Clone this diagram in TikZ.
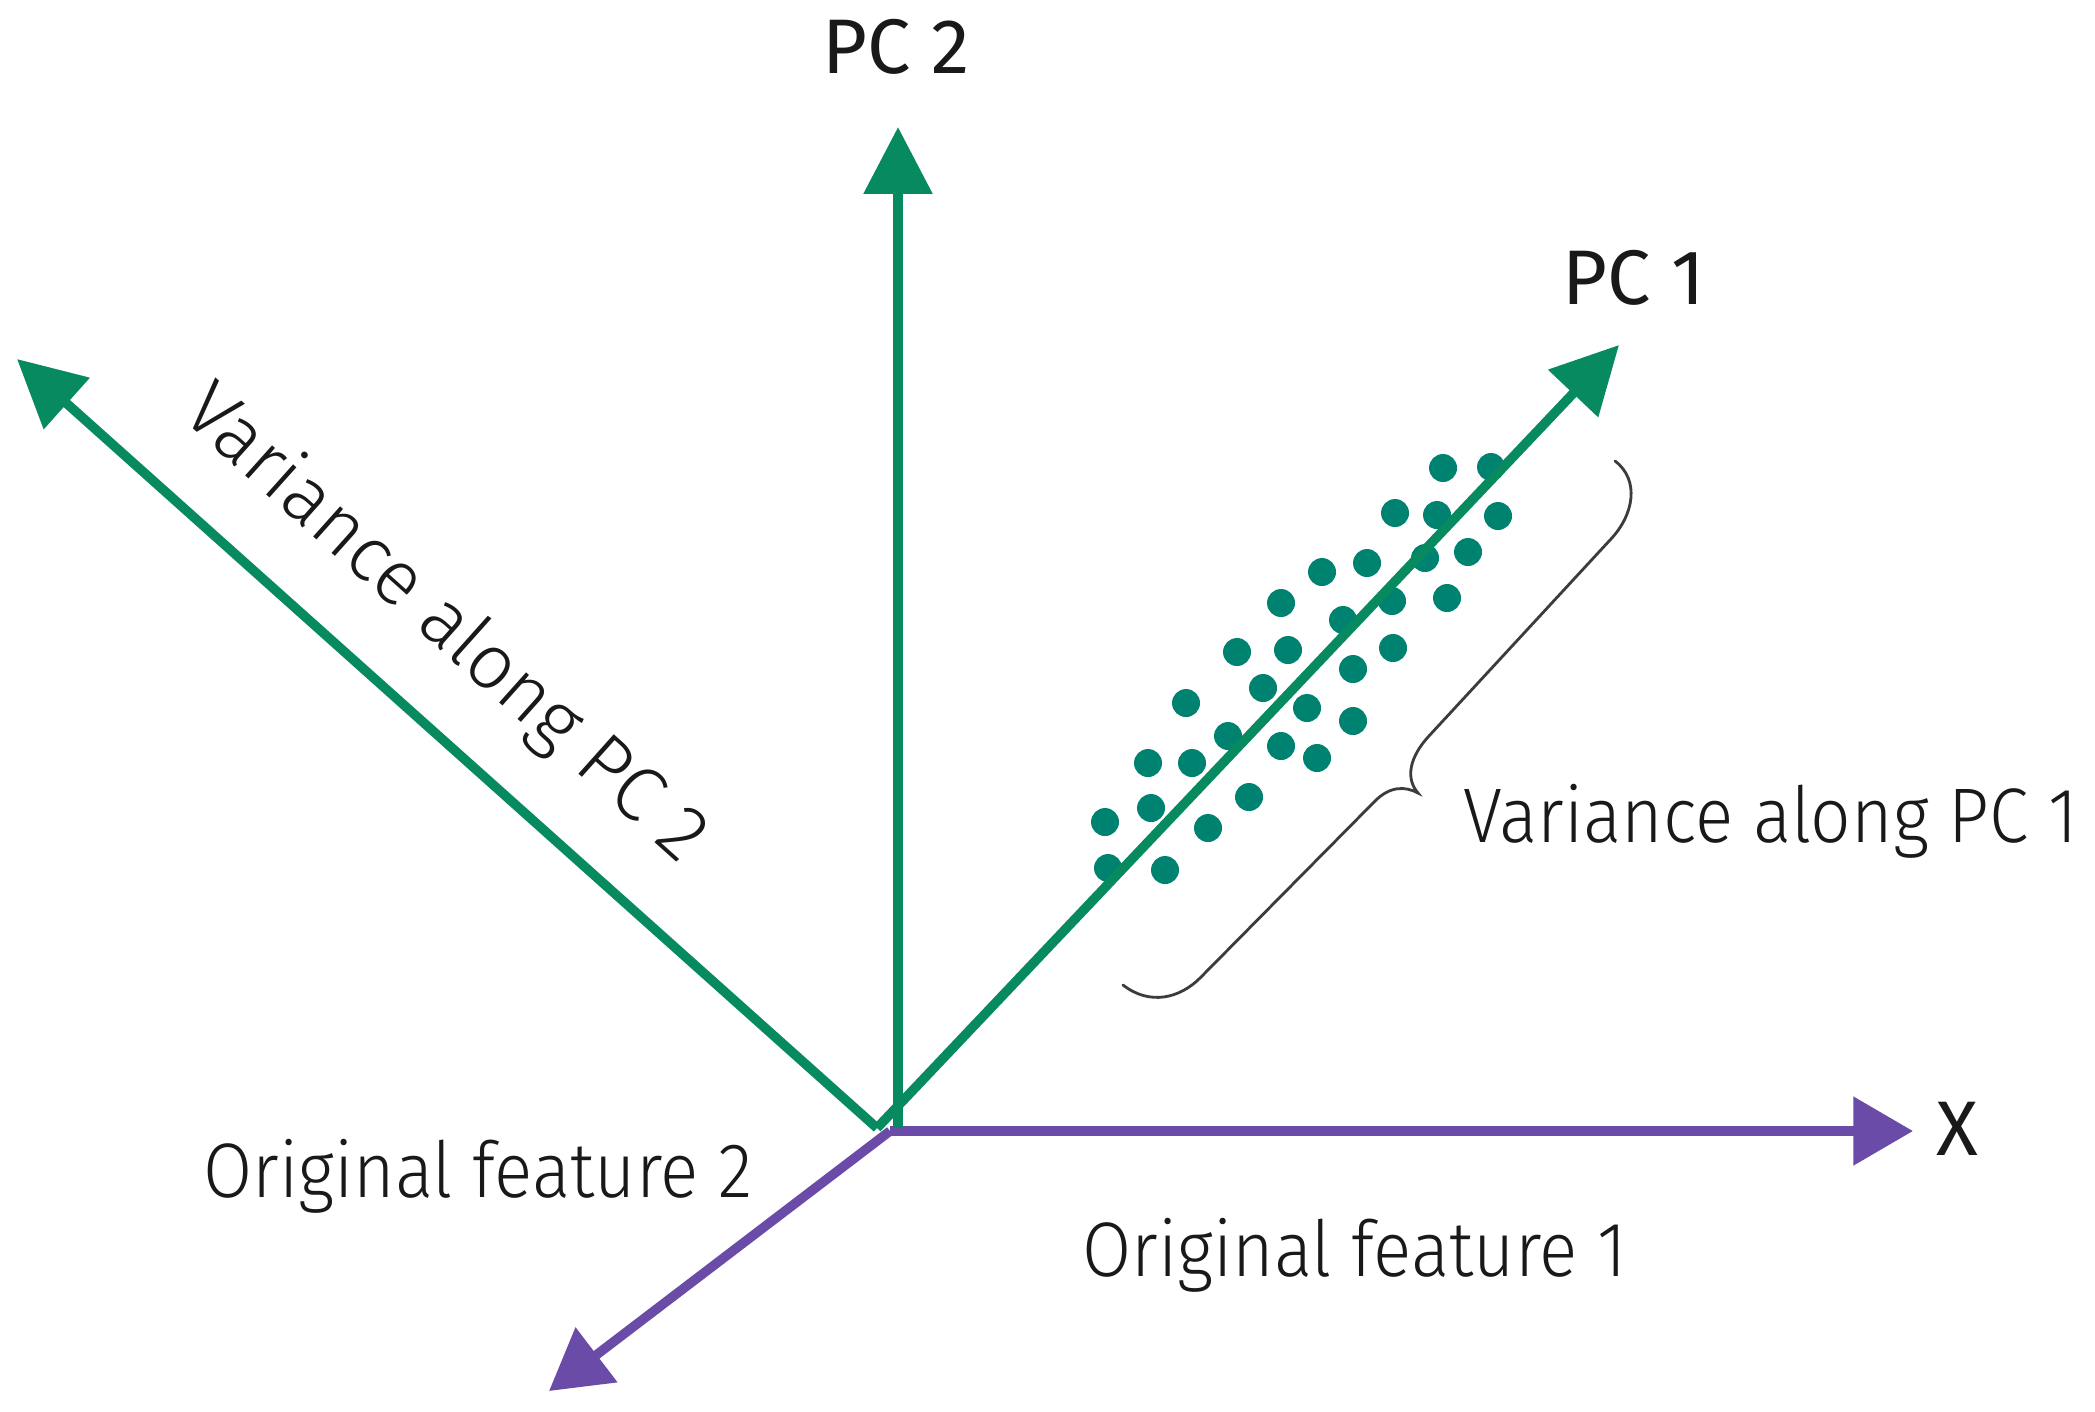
\documentclass[tikz,border=0pt]{standalone}
\usepackage{fontspec}
\setmainfont{Fira Sans}
\newfontfamily\lightf{Fira Sans Light}[FakeStretch=0.92]
\newfontfamily\lightw{Fira Sans Light}
\usetikzlibrary{arrows.meta}
\definecolor{pcgreen}{RGB}{8,138,96}
\definecolor{dotgreen}{RGB}{0,130,112}
\definecolor{purp}{RGB}{106,75,168}
\definecolor{bracegray}{RGB}{60,60,60}
\begin{document}
\begin{tikzpicture}[x=0.01cm,y=-0.01cm,
  pcarrow/.style={draw=pcgreen,line width=2.7pt,-{Triangle[length=19pt,width=19pt]}},
  featarrow/.style={draw=purp,line width=2.7pt,-{Triangle[length=17pt,width=19pt]}},
  lbl/.style={font=\lightf\fontsize{22}{26}\selectfont,inner sep=0pt,text=black!90},
  rlbl/.style={font=\lightw\fontsize{22}{26}\selectfont,inner sep=0pt,text=black!90},
  pclbl/.style={font=\fontsize{22}{26}\selectfont,inner sep=0pt,text=black!90},
  dot/.style={fill=dotgreen}]
\useasboundingbox (0,0) rectangle (2095,1411);
\fill[white] (0,0) rectangle (2095,1411);
% coordinates
\coordinate (og) at (877,1128);
\coordinate (ov) at (898,1128);
\coordinate (op) at (890,1131);
\coordinate (pc2tip) at (898,127);
\coordinate (pc1tip) at (1619,345);
\coordinate (perptip) at (17,359);
\coordinate (xtip) at (1913,1131);
\coordinate (f2tip) at (549,1391);
% dots
\foreach \x/\y in {1443/468,1491/467,1395/513,1437/515,1498/516,1367/563,1425/558,
  1468/552,1322/572,1281/603,1392/601,1447/598,1343/620,1237/652,1288/650,1393/648,
  1353/669,1263/688,1186/703,1307/708,1353/721,1228/736,1281/746,1317/758,1148/763,
  1192/763,1249/797,1151/808,1105/822,1208/828,1108/868,1165/870}
  \fill[dot] (\x,\y) circle[radius=14];
% axes
\draw[featarrow] (op) -- (xtip);
\draw[featarrow] (op) -- (f2tip);
\draw[pcarrow] (ov) -- (pc2tip);
\draw[pcarrow] (og) -- (pc1tip);
\draw[pcarrow] (og) -- (perptip);
% brace
\draw[bracegray,line width=0.8pt,line cap=round]
  (1615,461) .. controls (1640,480) and (1634,515) .. (1610,540)
  -- (1428,737) .. controls (1410,757) and (1405,778) .. (1418,793)
  .. controls (1405,786) and (1390,786) .. (1375,801)
  -- (1200,978) .. controls (1180,998) and (1150,1006) .. (1123,985);
% labels
\node[pclbl,anchor=base] (pc2) at (896,73) {PC 2};
\node[pclbl,anchor=base] (pc1) at (1634,304) {PC 1};
\node[pclbl,anchor=base] (xl) at (1957,1155) {X};
\node[lbl,anchor=base west] (v1) at (1463,842) {Variance along PC 1};
\node[lbl,anchor=base west] (f1) at (1082,1276) {Original feature 1};
\node[lbl,anchor=base west] (f2) at (203,1197) {Original feature 2};
\node[rlbl,rotate=-41.8] (v2) at (444,625) {Variance along PC 2};
\end{tikzpicture}
\end{document}
